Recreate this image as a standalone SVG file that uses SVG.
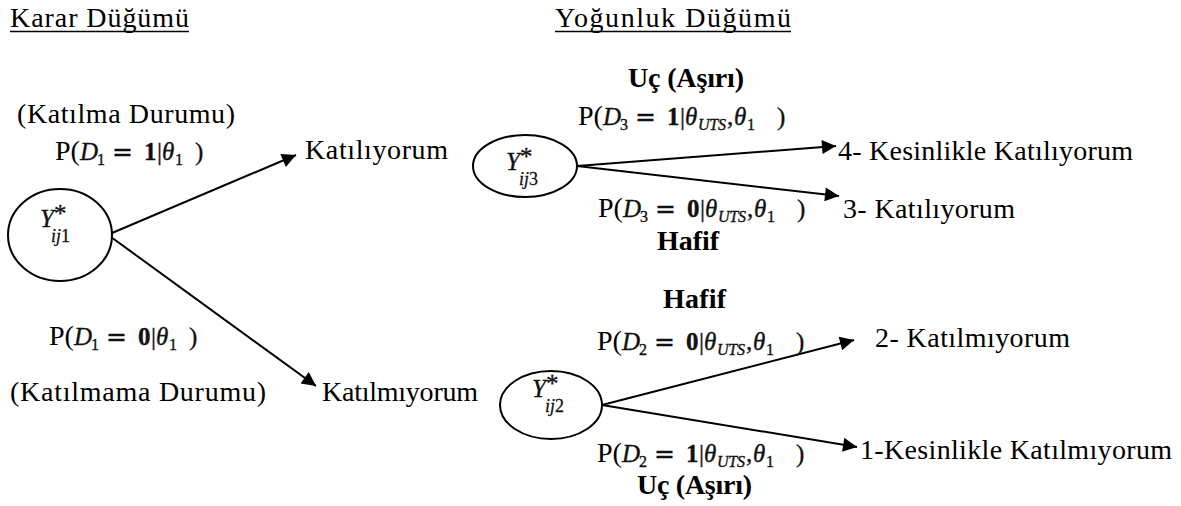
<svg xmlns="http://www.w3.org/2000/svg" width="1181" height="506" viewBox="0 0 1181 506">
<style>
.t{font-family:"Liberation Serif",serif;font-size:28px;fill:#000}
.b{font-weight:bold}
.m{font-family:"Liberation Serif",serif;font-size:25px;fill:#111;stroke:#111;stroke-width:0.35}
.eq{font-family:"DejaVu Sans",sans-serif;font-size:25px}
.i{font-style:italic}
.s{font-size:16px}
.ys{font-family:"Liberation Serif",serif;font-size:18px;font-style:italic;fill:#111;stroke:#111;stroke-width:0.3}
.node{fill:#fff;stroke:#000;stroke-width:2}
.conn{stroke:#000;stroke-width:2;fill:none;marker-end:url(#arr)}
.ul{stroke:#000;stroke-width:1.5}
</style>
<defs>
<marker id="arr" viewBox="0 0 10 10" refX="10" refY="5" markerWidth="9" markerHeight="7" orient="auto" markerUnits="strokeWidth">
<path d="M0,0 L10,5 L0,10 z" fill="#000"/>
</marker>
</defs>
<rect width="1181" height="506" fill="#fff"/>

<g id="titles">
<text class="t" x="10" y="27" textLength="179" lengthAdjust="spacing">Karar Düğümü</text>
<line class="ul" x1="10" y1="31.5" x2="189" y2="31.5"/>
<text class="t" x="555" y="27" textLength="236" lengthAdjust="spacing">Yoğunluk Düğümü</text>
<line class="ul" x1="555" y1="31.5" x2="791" y2="31.5"/>
</g>

<g id="connectors">
<line class="conn" x1="112" y1="233" x2="296" y2="155"/>
<line class="conn" x1="111" y1="237" x2="316" y2="386"/>
<line class="conn" x1="577" y1="166" x2="836" y2="146"/>
<line class="conn" x1="577" y1="166" x2="839" y2="196"/>
<line class="conn" x1="602" y1="405" x2="854" y2="340"/>
<line class="conn" x1="602" y1="405" x2="857" y2="447"/>
</g>

<g id="node-y1">
<ellipse class="node" cx="60" cy="235" rx="52" ry="46"/>
<text class="m i" x="40" y="227" font-size="22">Y</text>
<text class="m" x="54" y="222" font-size="14">*</text>
<text class="ys" x="51" y="242">ij<tspan font-style="normal">1</tspan></text>
</g>

<g id="node-y3">
<ellipse class="node" cx="525" cy="166" rx="52" ry="31"/>
<text class="m i" x="506" y="170" font-size="22">Y</text>
<text class="m" x="520" y="165" font-size="14">*</text>
<text class="ys" x="519" y="185">ij<tspan font-style="normal">3</tspan></text>
</g>

<g id="node-y2">
<ellipse class="node" cx="551" cy="405" rx="51" ry="34"/>
<text class="m i" x="532" y="397" font-size="22">Y</text>
<text class="m" x="546" y="392" font-size="14">*</text>
<text class="ys" x="545" y="412">ij<tspan font-style="normal">2</tspan></text>
</g>

<g id="label-katilma">
<text class="t" x="17" y="123" textLength="218" lengthAdjust="spacing">(Katılma Durumu)</text>
<text class="t" x="55" y="160">P(</text>
<text class="m" y="160"><tspan class="i" x="80">D</tspan><tspan class="s" x="97" dy="5">1</tspan><tspan class="eq" x="112" dy="-5">=</tspan><tspan class="b" x="144">1</tspan><tspan x="157">|</tspan><tspan class="i" x="162">θ</tspan><tspan class="s" x="175" dy="5">1</tspan><tspan x="195" dy="-5">)</tspan></text>
</g>

<g id="label-katilmama">
<text class="t" x="49" y="345">P(</text>
<text class="m" y="345"><tspan class="i" x="74">D</tspan><tspan class="s" x="91" dy="5">1</tspan><tspan class="eq" x="106" dy="-5">=</tspan><tspan class="b" x="138">0</tspan><tspan x="151">|</tspan><tspan class="i" x="156">θ</tspan><tspan class="s" x="169" dy="5">1</tspan><tspan x="189" dy="-5">)</tspan></text>
<text class="t" x="10" y="401" textLength="256" lengthAdjust="spacing">(Katılmama Durumu)</text>
</g>

<g id="out-katiliyorum">
<text class="t" x="305" y="159" textLength="143" lengthAdjust="spacing">Katılıyorum</text>
</g>
<g id="out-katilmiyorum">
<text class="t" x="322" y="401" textLength="156" lengthAdjust="spacing">Katılmıyorum</text>
</g>

<g id="label-d3">
<text class="t b" x="628" y="87" textLength="116" lengthAdjust="spacing">Uç (Aşırı)</text>
<text class="t" x="578" y="125">P(</text>
<text class="m" y="125"><tspan class="i" x="603">D</tspan><tspan class="s" x="620" dy="5">3</tspan><tspan class="eq" x="635" dy="-5">=</tspan><tspan class="b" x="667">1</tspan><tspan x="680">|</tspan><tspan class="i" x="685">θ</tspan><tspan class="s i" x="698" dy="5" textLength="28" lengthAdjust="spacing">UTS</tspan><tspan x="727" dy="-5">,</tspan><tspan class="i" x="734">θ</tspan><tspan class="s" x="747" dy="5">1</tspan><tspan x="777" dy="-5">)</tspan></text>
<text class="t" x="598" y="217">P(</text>
<text class="m" y="217"><tspan class="i" x="623">D</tspan><tspan class="s" x="640" dy="5">3</tspan><tspan class="eq" x="655" dy="-5">=</tspan><tspan class="b" x="687">0</tspan><tspan x="700">|</tspan><tspan class="i" x="705">θ</tspan><tspan class="s i" x="718" dy="5" textLength="28" lengthAdjust="spacing">UTS</tspan><tspan x="747" dy="-5">,</tspan><tspan class="i" x="754">θ</tspan><tspan class="s" x="767" dy="5">1</tspan><tspan x="797" dy="-5">)</tspan></text>
<text class="t b" x="657" y="250" textLength="62" lengthAdjust="spacing">Hafif</text>
</g>

<g id="out-4">
<text class="t" x="838" y="160" textLength="295" lengthAdjust="spacing">4- Kesinlikle Katılıyorum</text>
</g>
<g id="out-3">
<text class="t" x="843" y="218" textLength="172" lengthAdjust="spacing">3- Katılıyorum</text>
</g>

<g id="label-d2">
<text class="t b" x="663" y="308" textLength="63" lengthAdjust="spacing">Hafif</text>
<text class="t" x="597" y="350">P(</text>
<text class="m" y="350"><tspan class="i" x="622">D</tspan><tspan class="s" x="639" dy="5">2</tspan><tspan class="eq" x="654" dy="-5">=</tspan><tspan class="b" x="686">0</tspan><tspan x="699">|</tspan><tspan class="i" x="704">θ</tspan><tspan class="s i" x="717" dy="5" textLength="28" lengthAdjust="spacing">UTS</tspan><tspan x="746" dy="-5">,</tspan><tspan class="i" x="753">θ</tspan><tspan class="s" x="766" dy="5">1</tspan><tspan x="796" dy="-5">)</tspan></text>
<text class="t" x="597" y="462">P(</text>
<text class="m" y="462"><tspan class="i" x="622">D</tspan><tspan class="s" x="639" dy="5">2</tspan><tspan class="eq" x="654" dy="-5">=</tspan><tspan class="b" x="686">1</tspan><tspan x="699">|</tspan><tspan class="i" x="704">θ</tspan><tspan class="s i" x="717" dy="5" textLength="28" lengthAdjust="spacing">UTS</tspan><tspan x="746" dy="-5">,</tspan><tspan class="i" x="753">θ</tspan><tspan class="s" x="766" dy="5">1</tspan><tspan x="796" dy="-5">)</tspan></text>
<text class="t b" x="637" y="494" textLength="115" lengthAdjust="spacing">Uç (Aşırı)</text>
</g>

<g id="out-2">
<text class="t" x="875" y="347" textLength="195" lengthAdjust="spacing">2- Katılmıyorum</text>
</g>
<g id="out-1">
<text class="t" x="860" y="459" textLength="312" lengthAdjust="spacing">1-Kesinlikle Katılmıyorum</text>
</g>
</svg>
